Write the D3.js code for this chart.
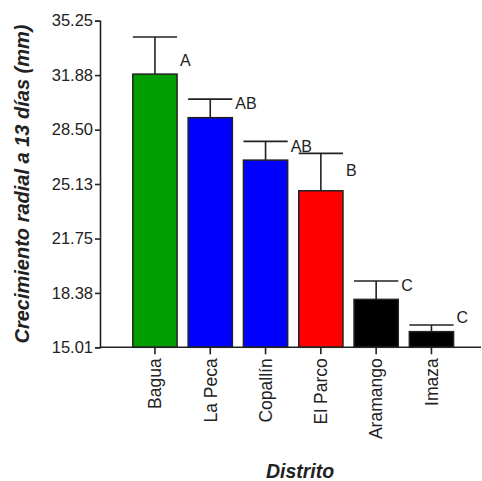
<!DOCTYPE html>
<html>
<head>
<meta charset="utf-8">
<script src="https://cdn.jsdelivr.net/npm/d3@7"></script>
<style>
  body { margin: 0; background: #fff; }
  text { font-family: Arial, "Liberation Sans", sans-serif; fill: #222; }
</style>
</head>
<body>
<div id="chart"></div>
<script>
// DATA ///////////////////////////////////////////////////////////////////////
const districts = ["Bagua", "La Peca", "Copallín", "El Parco", "Aramango", "Imaza"];
const means = [31.94, 29.24, 26.61, 24.71, 17.98, 15.98];
const errors = [2.30, 1.15, 1.16, 2.32, 1.14, 0.41];
const letters = ["A", "AB", "AB", "B", "C", "C"];
const letterAt = [32.80, 30.12, 27.48, 25.97, 18.85, 16.87];   // where each letter sits (mm)
const barColors = ["#009e00", "#0000ff", "#0000ff", "#ff0000", "#000000", "#000000"];
const yTicks = [15.01, 18.38, 21.75, 25.13, 28.50, 31.88, 35.25];

// CHART //////////////////////////////////////////////////////////////////////
const w = 482, h = 481;

const svg = d3.select("#chart")
  .append("svg")
  .attr("width", w)
  .attr("height", h);

const y = d3.scaleLinear()
  .domain([15.01, 35.25])
  .range([347.3, 20.7]);

const x = d3.scaleBand()
  .domain(districts)
  .range([127.3, 459.1])
  .paddingInner(0.2)
  .paddingOuter(0.1);

// bars
svg.selectAll(".bar")
  .data(districts)
  .enter()
  .append("rect")
  .attr("class", "bar")
  .attr("x", d => x(d))
  .attr("width", x.bandwidth())
  .attr("y", (d, i) => y(means[i]))
  .attr("height", (d, i) => y(15.01) - y(means[i]))
  .attr("fill", (d, i) => barColors[i])
  .attr("stroke", "#222")
  .attr("stroke-width", 1.5);

// error bars (upper only)
const err = svg.selectAll(".err")
  .data(districts)
  .enter()
  .append("g")
  .attr("class", "err")
  .attr("stroke", "#222")
  .attr("stroke-width", 1.6);

err.append("line")
  .attr("x1", d => x(d) + x.bandwidth() / 2)
  .attr("x2", d => x(d) + x.bandwidth() / 2)
  .attr("y1", (d, i) => y(means[i]))
  .attr("y2", (d, i) => y(means[i] + errors[i]));

err.append("line")
  .attr("x1", d => x(d))
  .attr("x2", d => x(d) + x.bandwidth())
  .attr("y1", (d, i) => y(means[i] + errors[i]))
  .attr("y2", (d, i) => y(means[i] + errors[i]));

// significance letters
svg.selectAll(".letter")
  .data(districts)
  .enter()
  .append("text")
  .attr("class", "letter")
  .attr("x", d => x(d) + x.bandwidth() + 3)
  .attr("y", (d, i) => y(letterAt[i]))
  .attr("dy", "0.36em")
  .style("font-size", "16px")
  .text((d, i) => letters[i]);

// y axis
const yAxis = svg.append("g")
  .attr("transform", "translate(100,0)")
  .call(d3.axisLeft(y).tickValues(yTicks).tickFormat(d3.format(".2f")).tickSize(5).tickPadding(2));
yAxis.select(".domain").attr("stroke", "#222").attr("stroke-width", 1.6);
yAxis.selectAll(".tick line").attr("stroke", "#222").attr("stroke-width", 1.6);
yAxis.selectAll(".tick text")
  .style("font-size", "16.5px")
  .style("font-family", "Arial, 'Liberation Sans', sans-serif")
  .attr("fill", "#222");

// x axis
const xAxis = svg.append("g")
  .attr("transform", "translate(0," + y(15.01) + ")");
xAxis.append("line")
  .attr("x1", 100).attr("x2", 481)
  .attr("stroke", "#222").attr("stroke-width", 1.6);
xAxis.selectAll(".xtick")
  .data(districts)
  .enter()
  .append("line")
  .attr("class", "xtick")
  .attr("x1", d => x(d) + x.bandwidth() / 2)
  .attr("x2", d => x(d) + x.bandwidth() / 2)
  .attr("y1", 0).attr("y2", 7)
  .attr("stroke", "#222").attr("stroke-width", 1.6);
xAxis.selectAll(".xlabel")
  .data(districts)
  .enter()
  .append("text")
  .attr("class", "xlabel")
  .attr("transform", d => "translate(" + (x(d) + x.bandwidth() / 2) + ",11) rotate(-90)")
  .attr("text-anchor", "end")
  .attr("dy", "0.36em")
  .style("font-size", "17.5px")
  .text(d => d);

// axis titles
svg.append("text")
  .attr("transform", "translate(29,184) rotate(-90)")
  .attr("text-anchor", "middle")
  .style("font-size", "20px")
  .style("font-weight", "bold")
  .style("font-style", "italic")
  .attr("fill", "#111")
  .text("Crecimiento radial a 13 días (mm)");

svg.append("text")
  .attr("x", 300)
  .attr("y", 478)
  .attr("text-anchor", "middle")
  .style("font-size", "19.5px")
  .style("font-weight", "bold")
  .style("font-style", "italic")
  .attr("fill", "#111")
  .text("Distrito");
</script>
</body>
</html>
